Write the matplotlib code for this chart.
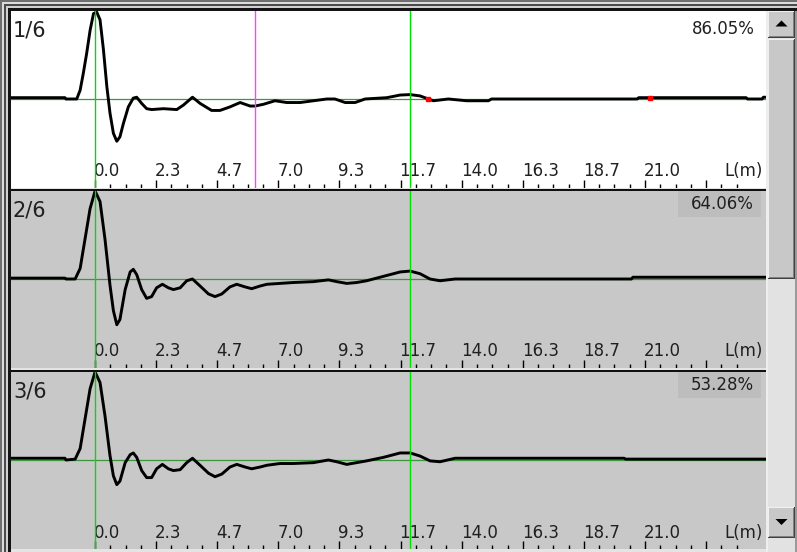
import matplotlib.pyplot as plt
from matplotlib.patches import Rectangle, Polygon
import numpy as np

W, H = 797, 552

# distance axis (m)
tick_labels = ["0.0", "2.3", "4.7", "7.0", "9.3", "11.7", "14.0", "16.3", "18.7", "21.0"]
major_ticks = [i * 7 / 3 for i in range(11)]
minor_ticks = [i * 7 / 12 for i in range(43)]
x_min, x_max = -3.21, 25.62

panel_names = ["1/6", "2/6", "3/6"]
percents = ["86.05%", "64.06%", "53.28%"]
cursor_green = [0.0, 12.03]
cursor_magenta = 6.11  # only on panel 1

# traces (distance in m, relative amplitude)
t1_x = [-3.21, -1.15, -1.11, -0.70, -0.57, -0.45, -0.32, -0.19, -0.06, 0.06, 0.19, 0.32,
        0.45, 0.57, 0.70, 0.83, 0.95, 1.08, 1.27, 1.46, 1.59, 1.78, 1.97, 2.16, 2.61, 3.12,
        3.37, 3.72, 4.01, 4.45, 4.77, 5.15, 5.54, 5.92, 6.11, 6.43, 6.87, 7.32, 7.83, 8.85,
        9.16, 9.55, 9.93, 10.31, 11.14, 11.65, 12.03, 12.41, 12.73, 12.92, 13.49, 14.19,
        15.02, 15.14, 20.70, 20.76, 24.86, 24.92, 25.47, 25.52, 25.62]
t1_y = [0.015, 0.015, 0.0, 0.0, 0.10, 0.29, 0.52, 0.78, 0.97, 0.99, 0.90, 0.56,
        0.14, -0.16, -0.39, -0.48, -0.43, -0.28, -0.09, 0.01, 0.02, -0.05, -0.11, -0.12, -0.11, -0.12,
        -0.07, 0.02, -0.05, -0.13, -0.13, -0.09, -0.04, -0.08, -0.08, -0.06, -0.02, -0.04, -0.04, 0.0,
        0.0, -0.04, -0.04, 0.0, 0.015, 0.045, 0.05, 0.035, 0.0, -0.02, 0.0, -0.02,
        -0.02, 0.0, 0.0, 0.015, 0.015, 0.0, 0.0, 0.02, 0.02]
t1_red_x = [12.71, 21.19]
t1_red_y = [0.0, 0.015]

t2_x = [-3.21, -1.15, -1.11, -0.76, -0.57, -0.38, -0.19, 0.0, 0.19, 0.38, 0.57, 0.70,
        0.83, 0.95, 1.15, 1.34, 1.46, 1.59, 1.78, 1.97, 2.16, 2.35, 2.57, 2.80, 2.99, 3.25,
        3.50, 3.72, 4.01, 4.33, 4.58, 4.84, 5.15, 5.41, 5.73, 5.98, 6.30, 6.56, 7.06, 7.57,
        8.34, 8.91, 9.23, 9.61, 9.99, 10.37, 11.01, 11.65, 12.03, 12.41, 12.79, 13.17, 13.75,
        20.48, 20.54, 25.62]
t2_y = [0.01, 0.01, 0.0, 0.0, 0.12, 0.46, 0.80, 1.0, 0.88, 0.45, -0.07, -0.36,
        -0.52, -0.46, -0.12, 0.08, 0.11, 0.05, -0.12, -0.22, -0.20, -0.10, -0.06, -0.10, -0.12, -0.10,
        -0.02, 0.0, -0.08, -0.17, -0.20, -0.17, -0.09, -0.06, -0.09, -0.11, -0.08, -0.06, -0.05, -0.04,
        -0.03, -0.01, -0.03, -0.05, -0.04, -0.02, 0.03, 0.08, 0.09, 0.06, 0.0, -0.02, 0.0,
        0.0, 0.02, 0.02]

t3_x = [-3.21, -1.15, -1.11, -0.76, -0.57, -0.38, -0.19, 0.0, 0.19, 0.38, 0.57, 0.70,
        0.83, 0.95, 1.15, 1.34, 1.46, 1.59, 1.78, 1.97, 2.16, 2.35, 2.57, 2.80, 2.99, 3.25,
        3.50, 3.72, 4.01, 4.33, 4.58, 4.84, 5.15, 5.41, 5.73, 5.98, 6.30, 6.56, 7.06, 7.57,
        8.34, 8.91, 9.23, 9.61, 9.99, 10.37, 11.01, 11.65, 12.03, 12.41, 12.79, 13.17, 13.75,
        20.20, 20.26, 25.62]
t3_y = [0.02, 0.02, 0.0, 0.01, 0.13, 0.47, 0.81, 1.0, 0.88, 0.50, 0.05, -0.18,
        -0.28, -0.24, -0.03, 0.06, 0.08, 0.03, -0.12, -0.20, -0.20, -0.10, -0.05, -0.10, -0.12, -0.11,
        -0.03, 0.02, -0.06, -0.15, -0.19, -0.16, -0.08, -0.05, -0.08, -0.10, -0.08, -0.06, -0.04, -0.04,
        -0.03, 0.0, -0.02, -0.05, -0.03, -0.01, 0.03, 0.08, 0.08, 0.045, -0.01, -0.02, 0.02,
        0.02, 0.01, 0.01]

traces = [(t1_x, t1_y), (t2_x, t2_y), (t3_x, t3_y)]
panel_colors = ["white", "#c8c8c8", "#c8c8c8"]
panel_tops = [11, 191, 372]
panel_h = 177
base_off = 88  # px from panel top to the zero line

fig = plt.figure(figsize=(W / 100, H / 100), dpi=100)
fig.patch.set_facecolor("#d4d4d4")


def rect(x0, y0, x1, y1, color, z=2):
    # pixel coords, origin top-left
    fig.add_artist(Rectangle((x0 / W, 1 - y1 / H), (x1 - x0) / W, (y1 - y0) / H,
                             transform=fig.transFigure, facecolor=color,
                             edgecolor="none", zorder=z))


def button(x0, y0, x1, y1):
    rect(x0, y0, x1, y1, "#404040", 3)
    rect(x0, y0, x1 - 1, y1 - 1, "#f0f0f0", 3)
    rect(x0 + 1, y0 + 1, x1 - 1, y1 - 1, "#808080", 3)
    rect(x0 + 1, y0 + 1, x1 - 2, y1 - 2, "#c8c8c8", 3)


def tri(cx, cy, up):
    d = -1 if up else 1
    pts = [(cx - 6, cy - 3 * d), (cx + 6, cy - 3 * d), (cx, cy + 3 * d)]
    fig.add_artist(Polygon([(x / W, 1 - y / H) for x, y in pts], closed=True,
                           transform=fig.transFigure, facecolor="black",
                           edgecolor="none", zorder=4))


for i in range(3):
    top = panel_tops[i]
    ax = fig.add_axes([11 / W, 1 - (top + panel_h) / H, 755 / W, panel_h / H])
    ax.set_facecolor(panel_colors[i])
    ax.set_xlim(x_min, x_max)
    ax.set_ylim(-(panel_h - base_off) / base_off, 1.0)
    for s in ax.spines.values():
        s.set_visible(False)
    ax.set_yticks([])
    ax.set_xticks(major_ticks)
    ax.set_xticks(minor_ticks, minor=True)
    ax.tick_params(which="major", direction="in", length=6, width=1, colors="black",
                   labelbottom=False)
    ax.tick_params(which="minor", direction="in", length=3, width=1, colors="black")

    ax.axhline(0, color="#3c963c", lw=0.9, zorder=2)
    tx, ty = traces[i]
    ax.plot(tx, ty, color="black", lw=2.1, solid_joinstyle="round", zorder=3)
    if i == 0:
        ax.plot(t1_red_x, t1_red_y, "s", color="red", ms=2.5, zorder=4)
        ax.axvline(cursor_magenta, color="#ff40ff", lw=1.0, zorder=5)
    for c in cursor_green:
        ax.axvline(c, color="#00dd00", lw=1.0, zorder=5)

    lab_y = 16.5 / panel_h
    tr = ax.get_xaxis_transform()
    for t, lab in zip(major_ticks, tick_labels):
        ax.text(t - 0.04, lab_y, lab, transform=tr, ha="left", va="center",
                fontsize=12, color="#202020", zorder=4)
    ax.text(752 / 755, lab_y, "L(m)", transform=ax.transAxes, ha="right", va="center",
            fontsize=12, color="#202020", zorder=4)

    # panel number and percentage
    ax.text(2 / 755, 1 - 19.5 / panel_h, panel_names[i], transform=ax.transAxes,
            ha="left", va="center", fontsize=15, color="#202020", zorder=4)
    if i == 0:
        ax.text(744 / 755, 1 - 17.5 / panel_h, percents[i], transform=ax.transAxes,
                ha="right", va="center", fontsize=12, color="#202020", zorder=4)
    else:
        ax.add_patch(Rectangle((667 / 755, 1 - 26 / panel_h), 83 / 755, 26 / panel_h,
                               transform=ax.transAxes, facecolor="#bdbdbd",
                               edgecolor="none", zorder=1))
        ax.text(743 / 755, 1 - 13 / panel_h, percents[i], transform=ax.transAxes,
                ha="right", va="center", fontsize=12, color="#202020", zorder=4)

# separators between panels
rect(11, 188, 766, 189, "#e4e4e4")
rect(11, 189, 766, 191, "#101010")
rect(11, 368, 766, 370, "#e4e4e4")
rect(11, 370, 766, 372, "#101010")
rect(11, 549, 766, 552, "#e4e4e4")

# outer frame (left and top)
for a, b, col in [(0, 2, "#6e6e6e"), (2, 4, "#dcdcdc"), (4, 6, "#4a4a4a"),
                  (6, 8, "#d0d0d0"), (8, 11, "#141414")]:
    rect(a, a, b, H, col)
    rect(a, a, W, b, col)

# scrollbar
rect(766, 11, 768, H, "#eeeeee")
rect(768, 11, 795, H, "#e2e2e2")
rect(795, 11, W, H, "#9a9a9a")
button(768, 11, 795, 38)
tri(781.5, 23.5, True)
button(768, 39, 795, 279)
button(768, 507, 795, 538)
tri(781.5, 522, False)

fig.savefig("out.png", dpi=100)
